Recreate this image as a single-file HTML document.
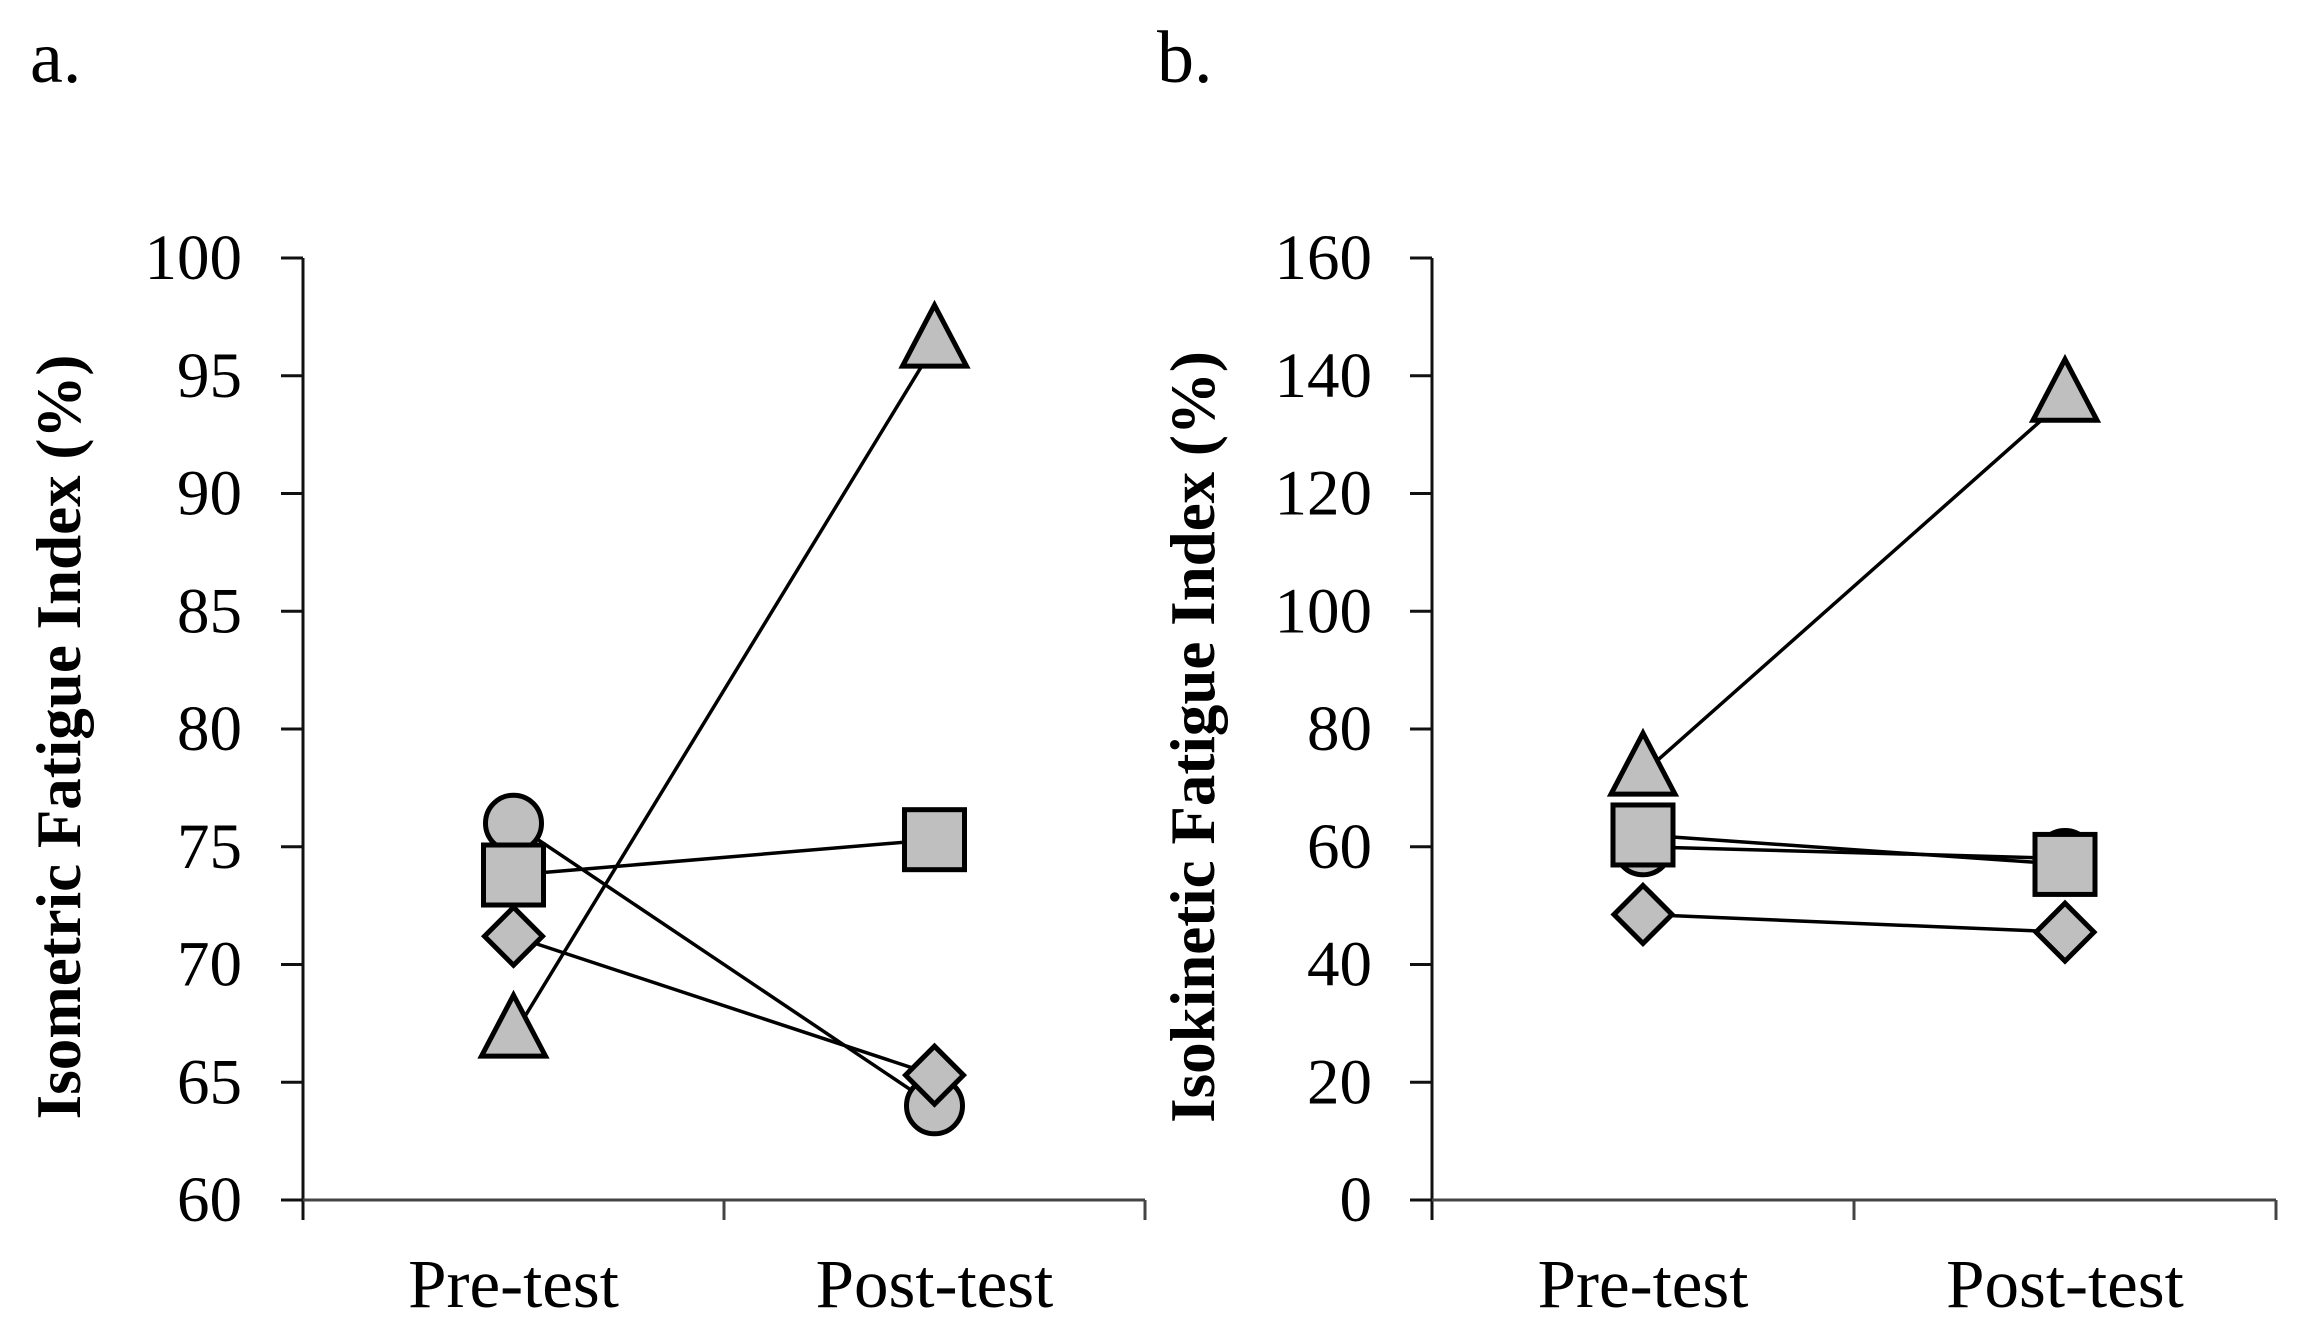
<!DOCTYPE html>
<html><head><meta charset="utf-8"><style>
html,body{margin:0;padding:0;background:#fff;}
svg{display:block;}
text{font-family:"Liberation Serif",serif;fill:#000;}
</style></head><body>
<svg id="chart" width="2301" height="1336" viewBox="0 0 2301 1336">
<text x="30" y="82" font-size="74">a.</text>
<text x="1157" y="82" font-size="74">b.</text>
<g id="pa"></g>
<g id="pb"></g>
</svg>
<script>
const categories = ["Pre-test", "Post-test"];
const seriesShapes = ["circle", "square", "diamond", "triangle"];
const aCircle = [76, 64];
const aSquare = [73.8, 75.3];
const aDiamond = [71.2, 65.3];
const aTriangle = [67, 96.3];
const aTicks = [60, 65, 70, 75, 80, 85, 90, 95, 100];
const bCircle = [60, 58];
const bSquare = [62, 57];
const bDiamond = [48.5, 45.5];
const bTriangle = [72.5, 136];
const bTicks = [0, 20, 40, 60, 80, 100, 120, 140, 160];

const NS = "http://www.w3.org/2000/svg";
function mk(tag, attrs, parent){const e=document.createElementNS(NS,tag);for(const k in attrs)e.setAttribute(k,attrs[k]);parent.appendChild(e);return e;}

function drawPanel(g, cfg, series, ticks){
  const yMin=ticks[0], yMax=ticks[ticks.length-1];
  const yS=v=>cfg.bot-(v-yMin)/(yMax-yMin)*(cfg.bot-cfg.top);
  const band=(cfg.right-cfg.left)/categories.length;
  const xS=i=>cfg.left+band*(i+0.5);
  let e=mk("line",{x1:cfg.left,y1:cfg.top,x2:cfg.left,y2:cfg.bot+20,stroke:"#111","stroke-width":3},g);
  
  
  e=mk("line",{x1:cfg.left-22,y1:cfg.bot,x2:cfg.right,y2:cfg.bot,stroke:"#444","stroke-width":3},g);
  
  
  for(let i=1;i<=categories.length;i++){
    e=mk("line",{x1:cfg.left+band*i,y1:cfg.bot,x2:cfg.left+band*i,y2:cfg.bot+20,stroke:"#444","stroke-width":3},g);
    
    
  }
  ticks.forEach(t=>{
    const y=yS(t);
    let l=mk("line",{x1:cfg.left-22,y1:y,x2:cfg.left,y2:y,stroke:"#111","stroke-width":3},g);
    
    
    let tx=mk("text",{x:cfg.tickX,y:y+21,"font-size":65,"text-anchor":"end"},g);
    tx.textContent=t;
    
    
  });
  categories.forEach((c,i)=>{
    let tx=mk("text",{x:xS(i),y:1307,"font-size":69,"text-anchor":"middle"},g);
    tx.textContent=c;
    
    
  });
  let yl=mk("text",{x:0,y:0,"font-size":63,"font-weight":"bold","text-anchor":"middle",transform:`translate(${cfg.labelX},${(cfg.top+cfg.bot)/2+8}) rotate(-90)`},g);
  yl.textContent=cfg.title;
  
  
  series.forEach(s=>{
    let l=mk("line",{x1:xS(0),y1:yS(s.vals[0]),x2:xS(1),y2:yS(s.vals[1]),stroke:"#000","stroke-width":3.5},g);
    
    
  });
  series.forEach(s=>{
    s.vals.forEach((v,i)=>{
      const x=xS(i), y=yS(v); let m;
      const st={fill:"#bfbfbf",stroke:"#000","stroke-width":5};
      if(s.shape==="circle") m=mk("circle",Object.assign({cx:x,cy:y,r:28},st),g);
      else if(s.shape==="square") m=mk("rect",Object.assign({x:x-30,y:y-30,width:60,height:60},st),g);
      else if(s.shape==="diamond") m=mk("polygon",Object.assign({points:`${x},${y-29} ${x+29},${y} ${x},${y+29} ${x-29},${y}`},st),g);
      else m=mk("polygon",Object.assign({points:`${x},${y-40} ${x+32},${y+21} ${x-32},${y+21}`},st),g);
      
      
    });
  });
}
drawPanel(document.getElementById("pa"),
  {left:303,right:1145,top:258,bot:1200,tickX:242,labelX:80,title:"Isometric Fatigue Index (%)"},
  [{shape:"circle",vals:aCircle},{shape:"square",vals:aSquare},{shape:"diamond",vals:aDiamond},{shape:"triangle",vals:aTriangle}],
  aTicks);
drawPanel(document.getElementById("pb"),
  {left:1432,right:2276,top:258,bot:1200,tickX:1372,labelX:1214,title:"Isokinetic Fatigue Index (%)"},
  [{shape:"circle",vals:bCircle},{shape:"square",vals:bSquare},{shape:"diamond",vals:bDiamond},{shape:"triangle",vals:bTriangle}],
  bTicks);
</script>
</body></html>
